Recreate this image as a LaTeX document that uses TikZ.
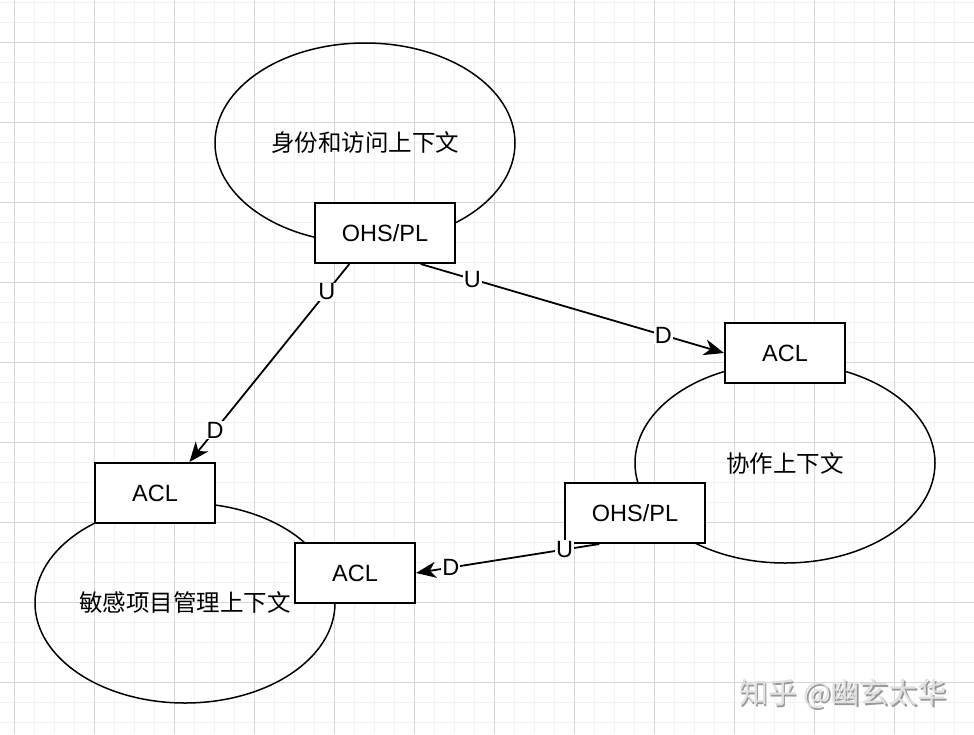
\documentclass[tikz,border=0pt]{standalone}
\usepackage{fontspec}
\setmainfont{Liberation Sans}
\newfontfamily\cjk{Noto Sans CJK SC}
\usetikzlibrary{arrows.meta, positioning, calc, shapes.geometric}

\begin{document}
\begin{tikzpicture}[
    x=1pt, y=-1pt,
    every node/.style={font=\fontsize{23.5}{28}\selectfont},
    context/.style={ellipse, draw, line width=1.5pt, minimum width=300pt, minimum height=200pt, inner sep=0pt},
    layer/.style={rectangle, draw, fill=white, line width=2pt, minimum height=60pt, inner sep=0pt},
    arrow/.style={-{Stealth[length=20pt, width=16pt, inset=6pt]}, line width=1.8pt},
    tag/.style={fill=white, inner sep=1pt},
    minorline/.style={line width=0.8pt, black!5},
    majorline/.style={line width=0.8pt, black!16}
]

\useasboundingbox (0,0) rectangle (974,734);

% === GRID ===
\foreach \x in {14,34,...,974} \draw[minorline] (\x,0) -- (\x,734);
\foreach \y in {2,22,...,734} \draw[minorline] (0,\y) -- (974,\y);
\foreach \x in {14,94,...,974} \draw[majorline] (\x,0) -- (\x,734);
\foreach \y in {42,122,...,734} \draw[majorline] (0,\y) -- (974,\y);

% === CONTEXTS ===
\node[context] (identity) at (365,143) {\cjk 身份和访问上下文};
\node[context] (collab) at (785,463) {\cjk 协作上下文};
\node[context] (sensitive) at (185,603) {\cjk 敏感项目管理上下文};

% === INTEGRATION LAYERS ===
\node[layer, minimum width=140pt] (ohsA) at (385,233) {OHS/PL};
\node[layer, minimum width=120pt] (aclB) at (785,353) {ACL};
\node[layer, minimum width=140pt] (ohsB) at (635,513) {OHS/PL};
\node[layer, minimum width=120pt] (aclA) at (155,493) {ACL};
\node[layer, minimum width=120pt] (aclC) at (355,573) {ACL};

% === UPSTREAM -> DOWNSTREAM ===
\draw[arrow] (ohsA.-139) -- node[tag, pos=0.14] {U} node[tag, pos=0.84] {D} (aclA.42);
\draw[arrow] (ohsA.-41) -- node[tag, pos=0.17] {U} node[tag, pos=0.8] {D} (aclB.west);
\draw[arrow] (ohsB.-139) -- node[tag, pos=0.19] {U} node[tag, pos=0.81] {D} (aclC.east);

% === WATERMARK ===
\node[text=black!40] (markshadow) at (844.5,695.5) {\cjk\fontsize{29}{34}\selectfont 知乎 @幽玄太华};
\node[text=black!12] (mark) at (843,694) {\cjk\fontsize{29}{34}\selectfont 知乎 @幽玄太华};

\end{tikzpicture}
\end{document}
